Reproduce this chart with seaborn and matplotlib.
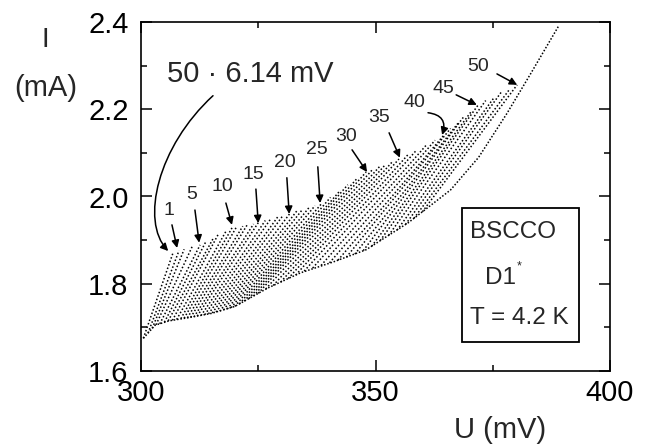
import numpy as np
import pandas as pd
import matplotlib
matplotlib.use("Agg")
import matplotlib.pyplot as plt
import seaborn as sns
from matplotlib.patches import FancyArrowPatch, Rectangle
from matplotlib.path import Path
from matplotlib.ticker import MultipleLocator

# ---------------- data ----------------
# lower envelope of the branch bundle (U in mV, I in mA)
env_U = [300.5, 303.0, 306.0, 310.0, 315.0, 320.0, 327.0, 334.0, 341.0, 348.0,
         357.0, 366.0, 372.0, 378.0, 383.0, 389.0]
env_I = [1.675, 1.705, 1.715, 1.722, 1.732, 1.748, 1.790, 1.825, 1.850, 1.878,
         1.940, 2.015, 2.090, 2.190, 2.280, 2.390]

branch_no = list(range(1, 51))
# start point of each branch on the envelope
start_U = [300.5, 301.5, 302.4, 303.2, 304.0, 305.0, 305.8, 306.7, 307.6, 308.5,
           309.2, 309.9, 310.6, 311.3, 312.0, 312.8, 313.6, 314.4, 315.2, 316.0,
           316.8, 317.6, 318.4, 319.2, 320.0, 321.0, 322.0, 323.0, 324.0, 325.0,
           326.6, 328.2, 329.8, 331.4, 333.0, 334.8, 336.6, 338.4, 340.2, 342.0,
           343.8, 345.6, 347.4, 349.2, 351.0, 352.8, 354.6, 356.4, 358.2, 360.0]
start_I = [1.675, 1.687, 1.698, 1.706, 1.708, 1.712, 1.715, 1.716, 1.718, 1.720,
           1.721, 1.722, 1.723, 1.724, 1.726, 1.727, 1.729, 1.731, 1.733, 1.735,
           1.737, 1.740, 1.742, 1.745, 1.748, 1.754, 1.760, 1.766, 1.772, 1.778,
           1.788, 1.796, 1.804, 1.812, 1.820, 1.829, 1.836, 1.842, 1.848, 1.854,
           1.861, 1.868, 1.876, 1.886, 1.899, 1.911, 1.923, 1.936, 1.950, 1.965]
# switching (top) point of each branch
top_U = [306.8, 308.1, 309.2, 310.9, 312.6, 313.9, 315.4, 316.5, 318.1, 319.4,
         320.4, 321.7, 322.7, 324.0, 325.0, 326.5, 327.6, 329.2, 330.3, 331.8,
         333.3, 334.4, 336.0, 337.1, 338.6, 340.4, 342.5, 344.1, 346.2, 348.0,
         349.3, 350.9, 352.1, 353.7, 355.0, 357.1, 358.8, 361.0, 362.7, 364.6,
         366.0, 367.6, 368.9, 370.5, 371.9, 373.5, 375.3, 376.8, 378.6, 380.2]
top_I = [1.870, 1.876, 1.879, 1.885, 1.889, 1.898, 1.904, 1.914, 1.920, 1.928,
         1.931, 1.932, 1.936, 1.937, 1.940, 1.945, 1.948, 1.954, 1.957, 1.962,
         1.968, 1.970, 1.977, 1.979, 1.985, 1.998, 2.014, 2.027, 2.043, 2.056,
         2.061, 2.069, 2.073, 2.081, 2.086, 2.098, 2.107, 2.120, 2.129, 2.141,
         2.156, 2.168, 2.184, 2.196, 2.210, 2.220, 2.227, 2.239, 2.246, 2.256]

# labelled branches: label, text position, arrow start, arrow tip
lab_text = ["1", "5", "10", "15", "20", "25", "30", "35", "40", "45", "50"]
lab_U = [306.0, 310.7, 317.3, 323.9, 330.7, 337.5, 343.7, 350.7, 358.4, 364.4, 371.9]
lab_I = [1.969, 2.004, 2.022, 2.050, 2.077, 2.107, 2.137, 2.180, 2.215, 2.247, 2.297]
arr_U0 = [306.6, 311.5, 318.1, 324.5, 331.1, 337.7, 345.0, 352.9, 361.2, 367.2, 375.9]
arr_I0 = [1.935, 1.969, 1.985, 2.017, 2.043, 2.068, 2.107, 2.146, 2.192, 2.233, 2.281]
arr_U1 = [307.7, 312.4, 319.4, 325.0, 331.6, 338.2, 348.2, 355.2, 364.2, 371.6, 380.2]
arr_I1 = [1.882, 1.894, 1.935, 1.939, 1.960, 1.985, 2.056, 2.089, 2.141, 2.210, 2.256]

x_ticks = [300, 350, 400]
y_ticks = [1.6, 1.8, 2.0, 2.2, 2.4]

# ---------------- style ----------------
sns.set_theme(style="ticks")
plt.rcParams["font.family"] = ["Liberation Sans", "DejaVu Sans"]

fig = plt.figure(figsize=(6.52, 4.45), dpi=100)
ax = fig.add_axes([141 / 652, 74 / 445, 469 / 652, 349 / 445])

rows = []
for n, u0, i0, u1, i1 in zip(branch_no, start_U, start_I, top_U, top_I):
    rows.append({"branch": n, "U": u0, "I": i0})
    rows.append({"branch": n, "U": u1, "I": i1})
branches = pd.DataFrame(rows)
env = pd.DataFrame({"U": env_U, "I": env_I})

dotted = (0, (1.0, 1.4))
sns.lineplot(data=branches, x="U", y="I", units="branch", estimator=None,
             color="black", linewidth=1.1, linestyle=dotted, ax=ax,
             legend=False)
sns.lineplot(data=env, x="U", y="I", color="black", linewidth=1.1,
             linestyle=(0, (1.0, 1.2)), ax=ax, legend=False, sort=False)

ax.set_xlim(300, 400)
ax.set_ylim(1.6, 2.4)
ax.set_xticks(x_ticks)
ax.set_yticks(y_ticks)
ax.set_xticklabels([str(v) for v in x_ticks])
ax.set_yticklabels([f"{v:.1f}" for v in y_ticks])
ax.xaxis.set_minor_locator(MultipleLocator(25))
ax.yaxis.set_minor_locator(MultipleLocator(0.1))
ax.tick_params(which="both", direction="in", top=True, right=True,
               colors="black", labelsize=21, width=1.1)
ax.tick_params(which="major", length=8)
ax.tick_params(which="minor", length=4.5)
ax.tick_params(axis="y", pad=9)
ax.tick_params(axis="x", pad=6)
for s in ax.spines.values():
    s.set_visible(True)
    s.set_color("black")
    s.set_linewidth(1.2)
ax.set_xlabel("")
ax.set_ylabel("")

# axis labels
fig.text(45 / 652, 1 - 40 / 445, "I", fontsize=20, ha="center", va="center")
fig.text(46 / 652, 1 - 88 / 445, "(mA)", fontsize=21, ha="center", va="center")
fig.text(500 / 652, 1 - 430 / 445, "U (mV)", fontsize=21, ha="center", va="center")

# branch labels with arrows
for t, tu, ti, u0, i0, u1, i1 in zip(lab_text, lab_U, lab_I, arr_U0, arr_I0, arr_U1, arr_I1):
    ax.text(tu, ti, t, fontsize=14, ha="center", va="center")
    cs = "arc3,rad=-0.6" if t == "40" else "arc3,rad=0"
    ax.add_patch(FancyArrowPatch((u0, i0), (u1, i1), arrowstyle="-|>",
                                 mutation_scale=11, color="black", lw=1.1,
                                 connectionstyle=cs, shrinkA=0, shrinkB=0))

# 50 x 6.14 mV label with curved arrow
ax.text(323.2, 2.281, "50 \u00b7 6.14 mV", fontsize=21, ha="center", va="center")
curve = Path([(315.35, 2.231), (303.6, 2.115), (299.8, 1.944), (305.8, 1.875)],
             [Path.MOVETO, Path.CURVE4, Path.CURVE4, Path.CURVE4])
ax.add_patch(FancyArrowPatch(path=curve, arrowstyle="-|>", mutation_scale=11,
                             color="black", lw=1.1, shrinkA=0, shrinkB=0))

# info box
ax.add_patch(Rectangle((0.6844, 0.0831), 0.2495, 0.3839, transform=ax.transAxes,
                       fill=False, edgecolor="black", linewidth=1.3))
ax.text(0.701, 0.398, "BSCCO", transform=ax.transAxes, fontsize=17.5,
        ha="left", va="center")
ax.text(0.733, 0.266, "D1", transform=ax.transAxes, fontsize=17.5,
        ha="left", va="center")
ax.text(0.801, 0.300, "*", transform=ax.transAxes, fontsize=9,
        ha="left", va="center")
ax.text(0.701, 0.152, "T = 4.2 K", transform=ax.transAxes, fontsize=17.5,
        ha="left", va="center")

fig.savefig("out.png", dpi=100)
